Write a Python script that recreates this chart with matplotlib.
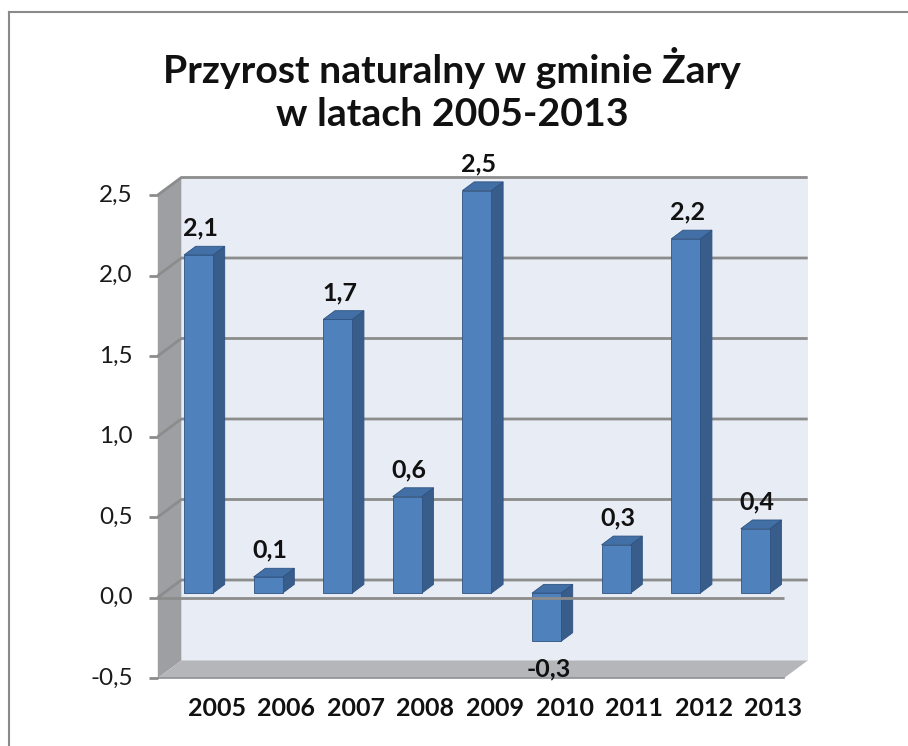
import matplotlib
matplotlib.use("Agg")
import matplotlib.pyplot as plt
from matplotlib.patches import Polygon
import numpy as np

# ---- data ----
years = ["2005", "2006", "2007", "2008", "2009", "2010", "2011", "2012", "2013"]
values = [2.1, 0.1, 1.7, 0.6, 2.5, -0.3, 0.3, 2.2, 0.4]
yticks = [-0.5, 0.0, 0.5, 1.0, 1.5, 2.0, 2.5]
title_lines = ["Przyrost naturalny w gminie Żary", "w latach 2005-2013"]

# ---- layout constants (pixels) ----
W, H, DPI = 908, 746, 100
X0 = 192.6        # pixel x of category 0 at front plane
PX_CAT = 69.6     # pixels per category
Y0 = 597.5        # pixel y (from top) of value 0 at front plane
PX_VAL = 161.0    # pixels per value unit
DEPTH_PX = (23.5, 17.5)   # pixel shift from front to back wall
DX = DEPTH_PX[0] / PX_CAT
DY = DEPTH_PX[1] / PX_VAL
BAR_W = 29 / PX_CAT
D0, D1 = 0.25, 0.75
VMIN, VMAX = yticks[0], yticks[-1]
XL, XR = -0.5, len(years) - 0.5

FONT = "Lato"
plt.rcParams["font.family"] = [FONT, "DejaVu Sans"]

fig = plt.figure(figsize=(W / DPI, H / DPI), dpi=DPI)
ax = fig.add_axes([0, 0, 1, 1])
ax.set_xlim((0 - X0) / PX_CAT, (W - X0) / PX_CAT)
ax.set_ylim((Y0 - H) / PX_VAL, Y0 / PX_VAL)
ax.axis("off")


def P(x, y, d):
    return (x + d * DX, y + d * DY)


def poly(pts, fc, ec="none", lw=0, z=1, alpha=1):
    ax.add_patch(Polygon(pts, closed=True, facecolor=fc, edgecolor=ec,
                         linewidth=lw, zorder=z, alpha=alpha))


# chart border
fig.add_artist(plt.Line2D([9 / W, 9 / W], [0, 1 - 12 / H], transform=fig.transFigure,
                          color="#8a8a8a", lw=1.5))
fig.add_artist(plt.Line2D([9 / W, 1], [1 - 12 / H, 1 - 12 / H], transform=fig.transFigure,
                          color="#8a8a8a", lw=1.5))

# back wall
poly([P(XL, VMIN, 1), P(XR, VMIN, 1), P(XR, VMAX, 1), P(XL, VMAX, 1)], "#e8ecf5", z=1)
# left wall
poly([P(XL, VMIN, 0), P(XL, VMIN, 1), P(XL, VMAX, 1), P(XL, VMAX, 0)], "#9d9fa2", z=2)
# floor
poly([P(XL, VMIN, 0), P(XR, VMIN, 0), P(XR, VMIN, 1), P(XL, VMIN, 1)], "#b4b6ba", z=2)
ax.plot(*zip(P(XL, VMIN, 0), P(XR, VMIN, 0)), color="#8e9094", lw=1.2, zorder=3)

# gridlines (left wall + back wall)
gc = "#8c8c8c"
for v in yticks[1:]:
    pts = [P(XL, v, 0), P(XL, v, 1), P(XR, v, 1)]
    ax.plot(*zip(*pts), color=gc, lw=2, zorder=3, solid_capstyle="butt")

# ticks and tick labels
tick_len = 9 / PX_CAT
for v in yticks:
    ax.plot([XL - tick_len, XL], [v, v], color=gc, lw=2, zorder=3, solid_capstyle="butt")
    lab = f"{v:.1f}".replace(".", ",")
    ax.annotate(lab, (XL, v), xytext=(-25, 0), textcoords="offset pixels",
                ha="right", va="center", fontsize=17.5, color="#1a1a1a", zorder=5)

# bars
front_c = "#4f81bd"
side_c = "#385d8a"
top_c = "#416fa6"
edge_c = "#2f5380"
for i, v in enumerate(values):
    lo, hi = min(0, v), max(0, v)
    xl, xr = i - BAR_W / 2, i + BAR_W / 2
    # side
    poly([P(xr, lo, D0), P(xr, lo, D1), P(xr, hi, D1), P(xr, hi, D0)], side_c, edge_c, 0.6, z=4)
    # top
    poly([P(xl, hi, D0), P(xr, hi, D0), P(xr, hi, D1), P(xl, hi, D1)], top_c, edge_c, 0.6, z=4)
    # front
    poly([P(xl, lo, D0), P(xr, lo, D0), P(xr, hi, D0), P(xl, hi, D0)], front_c, edge_c, 0.6, z=4)
    # data label
    fx, fy = P(i, v, D0)
    lab = f"{v:.1f}".replace(".", ",")
    off = 27 if v >= 0 else -27
    ax.annotate(lab, (fx, fy), xytext=(2, off), textcoords="offset pixels",
                ha="center", va="center", fontsize=18, fontweight="bold",
                color="#111111", zorder=6)

# front zero line (category axis)
ax.plot([XL, XR], [0, 0], color=gc, lw=2, zorder=5, solid_capstyle="butt")

# category labels
for i, yr in enumerate(years):
    ax.annotate(yr, (i, VMIN), xytext=(24, -30), textcoords="offset pixels",
                ha="center", va="center", fontsize=18, fontweight="bold",
                color="#111111", zorder=6)

# title
fig.text(452 / W, 1 - 68 / H, title_lines[0], ha="center", va="center",
         fontsize=28.3, fontweight="bold", color="#111111")
fig.text(452 / W, 1 - 115 / H, title_lines[1], ha="center", va="center",
         fontsize=28.3, fontweight="bold", color="#111111")

fig.savefig("out.png", dpi=DPI, facecolor="white")
